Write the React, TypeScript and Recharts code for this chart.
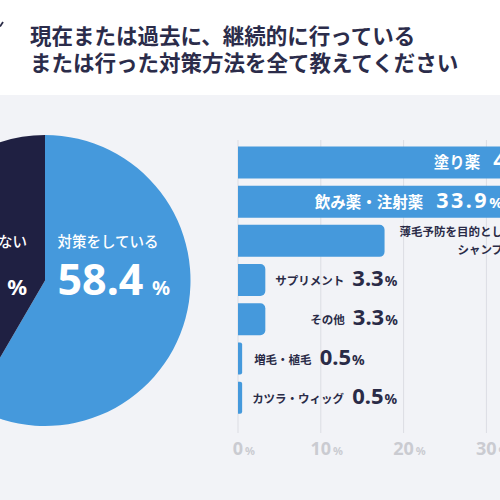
import React from 'react';
import { PieChart, Pie, Cell, BarChart, Bar, XAxis, YAxis, CartesianGrid, LabelList } from 'recharts';

const titleLines = ['現在または過去に、継続的に行っている', 'または行った対策方法を全て教えてください'];

const pieNames = ['対策をしている', '対策をしていない'];
const pieValues = [58.4, 41.6];

const methodNames = ['塗り薬', '飲み薬・注射薬', '薄毛予防を目的としたシャンプー', 'サプリメント', 'その他', '増毛・植毛', 'カツラ・ウィッグ'];
const methodValues = [40.8, 33.9, 17.7, 3.3, 3.3, 0.5, 0.5];
const xTicks = [0, 10, 20, 30, 40, 50];

// styling (not data)
const BLUE = '#4599dc';
const NAVY = '#1f2042';
const DARK = '#2a2b47';
const BG = '#f2f3f7';
const pieColors = [BLUE, NAVY];
const pctSize = [20, 22];
const pctGap = [8.5, 10];
const labelGap = [0, 0, 15, 10, 45, 12, 10];
const FONT = "'Noto Sans', 'Noto Sans CJK JP', sans-serif";

const pieData = pieNames.map((name, i) => ({ name, value: pieValues[i] }));
const barData = methodNames.map((name, i) => ({ name, value: methodValues[i] }));

const renderPieLabel = (props: any) => {
  const cx = Number(props.cx);
  const cy = Number(props.cy);
  const i = props.index;
  const anchor = i === 0 ? 'start' : 'end';
  const x = i === 0 ? cx + 12.5 : cx - 18;
  return (
    <g>
      <text x={x} y={cy - 39 + 5.5} textAnchor={anchor} fill="#ffffff" fontFamily={FONT} fontSize={14.5} fontWeight={500}>
        {pieNames[i]}
      </text>
      <text x={x} y={cy + 14.5} textAnchor={anchor} fill="#ffffff" fontFamily={FONT} fontWeight={700}>
        <tspan fontSize={43}>{pieValues[i].toFixed(1)}</tspan>
        <tspan fontSize={pctSize[i]} dx={pctGap[i]}>%</tspan>
      </text>
    </g>
  );
};

const renderTick = (props: any) => {
  const { x, y, payload } = props;
  const s = String(payload.value);
  const w = s.length * 10.4;
  return (
    <text x={Number(x) - w / 2} y={Number(y) + 13.5} fill="#cacbd1" fontWeight={700} fontFamily={FONT} textAnchor="start">
      <tspan fontSize={18}>{s}</tspan>
      <tspan fontSize={11} dx={2}>%</tspan>
    </text>
  );
};

const renderBarLabel = (props: any) => {
  const x = Number(props.x);
  const y = Number(props.y);
  const width = Number(props.width);
  const height = Number(props.height);
  const i = props.index;
  const name = methodNames[i];
  const value = methodValues[i];
  const cyc = y + height / 2;
  const base = cyc + 6;
  if (i < 2) {
    return (
      <text x={x + width - 16} y={base} textAnchor="end" fill="#ffffff" fontFamily={FONT} fontWeight={700}>
        <tspan fontSize={15.5}>{name}</tspan>
        <tspan fontSize={21.5} dx={13} letterSpacing={2.5}>{value.toFixed(1)}</tspan>
        <tspan fontSize={15} dx={0}>%</tspan>
      </text>
    );
  }
  if (i === 2) {
    const endX = x + width + labelGap[i] + 115;
    return (
      <g>
        <text x={endX} y={cyc - 8.8 + 4.4} textAnchor="end" fill={DARK} fontFamily={FONT} fontSize={11.5} fontWeight={700}>
          {name.slice(0, 10)}
        </text>
        <text x={endX} y={cyc + 8.5 + 4.4} textAnchor="end" fill={DARK} fontFamily={FONT} fontSize={11.5} fontWeight={700}>
          {name.slice(10)}
        </text>
        <text x={endX + 8} y={base} textAnchor="start" fill={DARK} fontFamily={FONT} fontWeight={700}>
          <tspan fontSize={22}>{value.toFixed(1)}</tspan>
          <tspan fontSize={14} dx={1}>%</tspan>
        </text>
      </g>
    );
  }
  return (
    <text x={x + width + labelGap[i]} y={base} textAnchor="start" fill={DARK} fontFamily={FONT} fontWeight={700}>
      <tspan fontSize={11.5} dy={-1}>{name}</tspan>
      <tspan fontSize={22} dx={8} dy={1}>{value.toFixed(1)}</tspan>
      <tspan fontSize={14} dx={1}>%</tspan>
    </text>
  );
};

export default function App() {
  return (
    <div style={{ position: 'fixed', left: 0, top: 0, width: 500, height: 500, overflow: 'hidden', background: BG }}>
      <div style={{ position: 'absolute', left: 0, top: 0, width: 500, height: 95, background: '#ffffff' }} />
      <svg width={10} height={40} style={{ position: 'absolute', left: 0, top: 0 }}>
        <line x1={0} y1={26.5} x2={3} y2={22} stroke={DARK} strokeWidth={1.8} />
      </svg>
      <div
        style={{
          position: 'absolute',
          left: 30,
          top: 21,
          fontFamily: "'Noto Sans CJK JP', sans-serif",
          fontSize: 21.5,
          lineHeight: '27px',
          fontWeight: 700,
          color: '#2b2c4a',
          whiteSpace: 'nowrap',
        }}
      >
        {titleLines.map((t) => (
          <div key={t}>{t}</div>
        ))}
      </div>
      <div style={{ position: 'absolute', left: 0, top: 0 }}>
        <PieChart width={500} height={500} margin={{ top: 0, right: 0, bottom: 0, left: 0 }}>
          <Pie
            data={pieData}
            dataKey="value"
            nameKey="name"
            cx={45}
            cy={280.5}
            outerRadius={145.5}
            startAngle={90}
            endAngle={-270}
            stroke="none"
            isAnimationActive={false}
            label={renderPieLabel}
            labelLine={false}
          >
            {pieData.map((d, i) => (
              <Cell key={d.name} fill={pieColors[i]} />
            ))}
          </Pie>
        </PieChart>
      </div>
      <div style={{ position: 'absolute', left: 0, top: 0 }}>
        <BarChart width={700} height={500} data={barData} layout="vertical" margin={{ top: 140, right: 48, left: 238, bottom: 37 }}>
          <CartesianGrid horizontal={false} stroke="#dcdde3" />
          <XAxis type="number" domain={[0, 50]} ticks={xTicks} interval={0} axisLine={false} tickLine={false} tick={renderTick} height={30} />
          <YAxis type="category" dataKey="name" hide padding={{ top: 2.4, bottom: 16 }} />
          <Bar dataKey="value" fill={BLUE} barSize={32} radius={[0, 5, 5, 0]} isAnimationActive={false}>
            <LabelList dataKey="value" content={renderBarLabel} />
          </Bar>
        </BarChart>
      </div>
    </div>
  );
}
